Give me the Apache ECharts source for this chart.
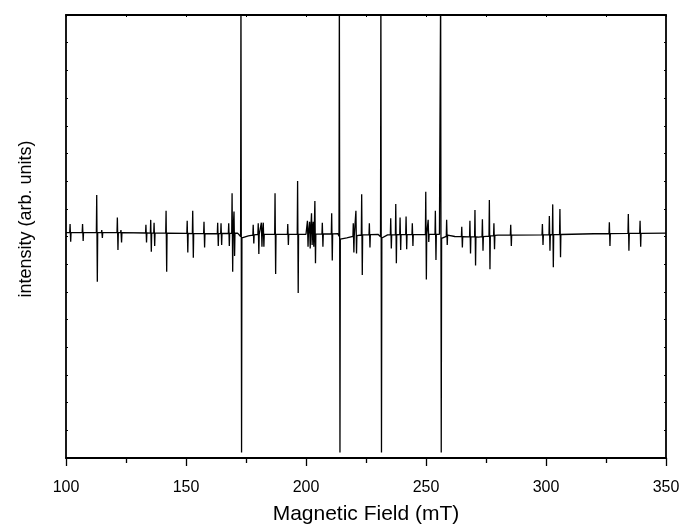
<!DOCTYPE html>
<html>
<head>
<meta charset="utf-8">
<script src="https://cdn.jsdelivr.net/npm/echarts@6/dist/echarts.min.js"></script>
<style>
html,body{margin:0;padding:0;background:#fff;}
#chart{width:680px;height:524px;}
</style>
</head>
<body>
<div id="chart"></div>
<script>
// Resonance lines: field position (mT), positive and negative excursion (arb. units)
const fields = [101.7,106.9,112.8,114.9,121.4,122.9,133.3,135.3,136.7,141.7,150.5,152.8,157.5,163.2,164.6,167.8,169.2,170.0,172.9,178.0,180.1,181.4,182.2,187.1,192.4,196.5,200.6,201.5,202.3,203.0,203.7,206.8,210.7,213.9,219.7,220.8,223.2,226.4,231.2,235.3,237.4,239.2,241.7,244.3,249.9,250.9,253.9,256.1,258.6,264.9,268.3,270.4,273.5,276.4,278.3,285.3,298.5,301.4,302.8,305.8,326.4,334.3,339.2];
const highs = [0.45,0.45,1.50,0.23,0.69,0.23,0.42,0.60,0.50,0.93,0.57,0.93,0.53,0.50,0.48,0.48,1.56,0.90,9,0.42,0.48,0.50,0.50,1.56,0.45,2.0,0.57,0.53,0.84,0.53,1.28,0.50,0.84,9,0.48,0.93,1.53,0.48,9,0.66,1.17,0.69,0.72,0.48,1.62,0.60,0.93,9,0.60,0.35,0.57,0.96,0.62,1.32,0.48,0.42,0.45,0.74,1.16,0.99,0.51,0.81,0.57];
const lows = [-0.19,-0.16,-1.63,-0.05,-0.49,-0.22,-0.22,-0.55,-0.34,-1.27,-0.58,-0.77,-0.40,-0.34,-0.31,-0.34,-1.27,-0.70,-7.8,-0.25,-0.63,-0.37,-0.37,-1.35,-0.31,-2.04,-0.37,-0.43,-0.31,-0.37,-0.97,-0.37,-0.87,-7.8,-0.58,-0.61,-1.39,-0.40,-7.8,-0.43,-0.97,-0.49,-0.46,-0.34,-1.55,-0.20,-0.85,-7.8,-0.31,-0.40,-0.61,-1.05,-0.51,-1.18,-0.46,-0.34,-0.31,-0.51,-1.11,-0.75,-0.34,-0.51,-0.37];
// Baseline level read at anchor fields
const baseField = [100,120,140,160,171.5,173.6,176,180,200,213.3,214.6,217,222,230,231.9,234,255.6,256.8,259,262,272,280,300,320,350];
const baseLevel = [0.14,0.14,0.12,0.10,0.12,-0.08,0.02,0.08,0.08,0.10,-0.15,-0.05,0.05,0.08,-0.08,0.06,0.08,-0.12,0.05,0.00,-0.02,0.05,0.06,0.10,0.12];
const xTicks = [100,150,200,250,300,350];

function baseAt(x){
  for(let i=0;i<baseField.length-1;i++){
    if(x>=baseField[i] && x<=baseField[i+1]){
      const t=(x-baseField[i])/(baseField[i+1]-baseField[i]);
      return baseLevel[i]+t*(baseLevel[i+1]-baseLevel[i]);
    }
  }
  return baseLevel[baseLevel.length-1];
}
const pts = [];
const wins = [];
fields.forEach((f,i)=>{
  const b0 = baseAt(f-0.15), b1 = baseAt(f+0.4);
  pts.push([f-0.15,b0],[f,highs[i]],[f+0.25,lows[i]],[f+0.4,b1]);
  wins.push([f-0.15,f+0.4]);
});
baseField.forEach((f,i)=>{
  if(!wins.some(w=>f>=w[0]&&f<=w[1])) pts.push([f,baseLevel[i]]);
});
pts.sort((a,b)=>a[0]-b[0]);

const font = '"Liberation Sans", Arial, sans-serif';
const chart = echarts.init(document.getElementById('chart'));
chart.setOption({
  animation:false,
  backgroundColor:'#fff',
  grid:{left:66,right:14,top:15,bottom:66,containLabel:false,outerBoundsMode:'none'},
  xAxis:[{
    type:'value',position:'bottom',min:xTicks[0],max:xTicks[xTicks.length-1],interval:50,
    name:'Magnetic Field (mT)',nameLocation:'middle',nameGap:46,
    nameTextStyle:{fontFamily:font,fontSize:21,color:'#000'},
    axisLine:{show:true,onZero:false,lineStyle:{color:'#000',width:1.8}},
    axisTick:{show:true,inside:false,length:8,lineStyle:{color:'#000',width:1.3}},
    minorTick:{show:true,splitNumber:2,length:5,lineStyle:{color:'#000',width:1.3}},
    axisLabel:{fontFamily:font,fontSize:16,color:'#000',margin:22},
    splitLine:{show:false}
  },{
    type:'value',position:'top',min:100,max:350,interval:25,
    axisLine:{show:true,onZero:false,lineStyle:{color:'#000',width:1.8}},
    axisTick:{show:true,inside:true,length:2,lineStyle:{color:'#000'}},
    axisLabel:{show:false},splitLine:{show:false}
  }],
  yAxis:[{
    type:'value',position:'left',min:-8,max:8,interval:1,
    axisLine:{show:true,onZero:false,lineStyle:{color:'#000',width:1.8}},
    axisTick:{show:true,inside:true,length:2,lineStyle:{color:'#000'}},
    axisLabel:{show:false},splitLine:{show:false}
  },{
    type:'value',position:'right',min:-8,max:8,interval:1,
    axisLine:{show:true,onZero:false,lineStyle:{color:'#000',width:1.8}},
    axisTick:{show:true,inside:true,length:2,lineStyle:{color:'#000'}},
    axisLabel:{show:false},splitLine:{show:false}
  }],
  graphic:[{
    type:'text',x:26,y:219,rotation:Math.PI/2,
    style:{text:'intensity (arb. units)',fontFamily:font,fontSize:18,fill:'#000',align:'center',verticalAlign:'middle'}
  }],
  series:[{
    type:'line',xAxisIndex:0,yAxisIndex:0,data:pts,showSymbol:false,symbol:'none',
    clip:true,lineStyle:{color:'#000',width:1.3},
  }]
});
</script>
</body>
</html>
